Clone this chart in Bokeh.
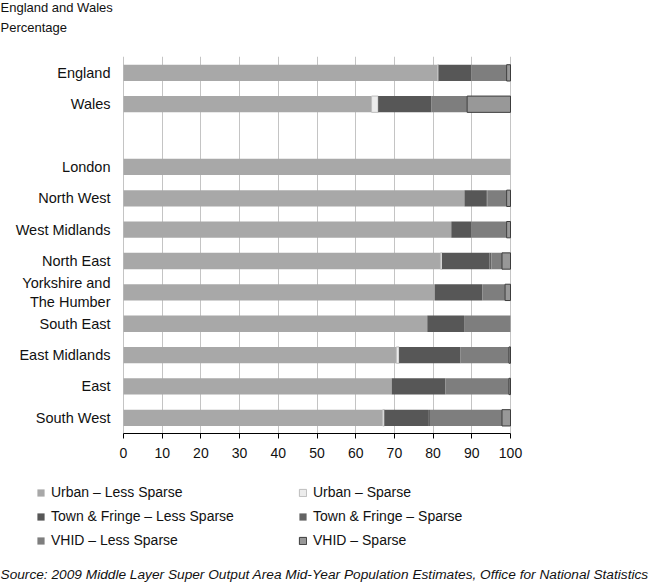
from bokeh.plotting import figure
from bokeh.layouts import column
from bokeh.models import ColumnDataSource, Range1d, FixedTicker, Label, Legend
from bokeh.core.properties import value
from bokeh.embed import file_html
from bokeh.resources import INLINE

# display order (top to bottom); None marks the empty gap row
row_order = ["England", "Wales", None, "London", "North West", "West Midlands", "North East",
             "Yorkshire and\nThe Humber", "South East", "East Midlands", "East", "South West"]
regions = [r for r in row_order if r is not None]
urban_less = [81.2, 64.1, 100.0, 88.1, 84.7, 81.9, 80.4, 78.5, 70.5, 69.3, 67.0]
urban_sparse = [0.2, 1.7, 0.0, 0.0, 0.0, 0.4, 0.0, 0.0, 0.7, 0.0, 0.4]
town_less = [8.5, 13.7, 0.0, 5.6, 5.1, 12.3, 12.3, 9.5, 15.9, 13.9, 11.3]
town_sparse = [0.0, 0.0, 0.0, 0.3, 0.0, 0.5, 0.0, 0.0, 0.0, 0.0, 0.5]
vhid_less = [9.1, 9.3, 0.0, 5.0, 9.2, 2.7, 5.9, 12.0, 12.5, 16.4, 18.6]
vhid_sparse = [1.0, 11.2, 0.0, 1.0, 1.0, 2.2, 1.4, 0.0, 0.4, 0.4, 2.2]
series_names = ["Urban \u2013 Less Sparse", "Urban \u2013 Sparse", "Town & Fringe \u2013 Less Sparse",
                "Town & Fringe \u2013 Sparse", "VHID \u2013 Less Sparse", "VHID \u2013 Sparse"]
x_ticks = [0, 10, 20, 30, 40, 50, 60, 70, 80, 90, 100]
title_lines = ["England and Wales", "Percentage"]
source_text = "Source: 2009 Middle Layer Super Output Area Mid-Year Population Estimates, Office for National Statistics"

n_rows = len(row_order)
ypos = [n_rows - 1 - row_order.index(r) for r in regions]

keys = ["ul", "us", "tl", "ts", "vl", "vs"]
data = dict(region=regions, y=ypos, ul=urban_less, us=urban_sparse, tl=town_less,
            ts=town_sparse, vl=vhid_less, vs=vhid_sparse)
data["vs_lc"] = ["#3c3c3c" if v > 0 else None for v in vhid_sparse]
data["us_lc"] = ["#bdbdbd" if v > 0 else None for v in urban_sparse]
src = ColumnDataSource(data)

colors = ["#a8a8a8", "#ececec", "#575757", "#636363", "#7e7e7e", "#989898"]
FONT = "Liberation Sans"
TXT = "#111111"

# pixel geometry of the reference
PX_PER_UNIT = 3.87      # x: 100 % spans 387 px, 0 % at 123 px
ROW_PX = 31.36          # row pitch
W = 654
FRAME_H = 433 - 56


def bars(fig):
    rs = fig.hbar_stack(keys, y="y", height=0.52, source=src, color=colors)
    for r, k in zip(rs, keys):
        if k == "vs":
            r.glyph.line_color = {"field": "vs_lc"}
        elif k == "us":
            r.glyph.line_color = {"field": "us_lc"}
        else:
            r.glyph.line_color = None
    return rs


def blank_fig(h, yr=(0, 1)):
    f = figure(width=W, height=h, x_range=Range1d(0, 1), y_range=Range1d(*yr),
               output_backend="svg", toolbar_location=None,
               x_axis_location=None, y_axis_location=None,
               min_border_left=0, min_border_right=0, min_border_top=0, min_border_bottom=0)
    f.outline_line_color = None
    f.xgrid.grid_line_color = None
    f.ygrid.grid_line_color = None
    return f


# ---- heading strip ----
t = blank_fig(40)
for txt, yy in zip(title_lines, [33, 13]):
    t.add_layout(Label(x=0, y=yy, x_units="screen", y_units="screen", text=txt,
                       text_font=FONT, text_font_size="13px", text_color=TXT,
                       text_baseline="middle"))

# ---- main chart ----
p = figure(width=W, height=424,
           x_range=Range1d(-123 / PX_PER_UNIT, (W - 123) / PX_PER_UNIT),
           y_range=Range1d(-0.5, -0.5 + FRAME_H / ROW_PX),
           output_backend="svg", toolbar_location=None, y_axis_location=None,
           min_border_left=0, min_border_right=0, min_border_top=16, min_border_bottom=31)
p.outline_line_color = None
bars(p)

# category labels
p.text(x=0, y="y", text="region", source=src, x_offset=-13, text_align="right",
       text_baseline="middle", text_font=value(FONT), text_font_size="14.5px",
       text_color=TXT, text_line_height=1.2)

p.xaxis.ticker = FixedTicker(ticks=x_ticks)
p.xaxis.bounds = (0, 100)
p.xaxis.axis_line_color = "#000000"
p.xaxis.major_tick_line_color = "#000000"
p.xaxis.major_tick_in = 0
p.xaxis.major_tick_out = 5
p.xaxis.minor_tick_line_color = None
p.xaxis.major_label_text_font = FONT
p.xaxis.major_label_text_font_size = "14px"
p.xaxis.major_label_text_color = TXT
p.xaxis.major_label_standoff = 9

p.xgrid.grid_line_color = "#c4c4c4"
p.xgrid.grid_line_width = 1
p.ygrid.grid_line_color = None
p.xgrid.level = "underlay"

# ---- legend + source strip (bars kept out of view, only legend shown) ----
q = blank_fig(120, yr=(100, 101))
q_rs = bars(q)

lg = Legend(items=[(name, [r]) for name, r in zip(series_names, q_rs)])
lg.orientation = "horizontal"
lg.ncols = 2
lg.location = (36, 34)
lg.padding = 0
lg.margin = 0
lg.spacing = 4
lg.border_line_color = None
lg.background_fill_alpha = 0
lg.glyph_width = 9
lg.glyph_height = 9
lg.label_height = 20
lg.label_width = 243
lg.label_standoff = 6
lg.label_text_font = FONT
lg.label_text_font_size = "14px"
lg.label_text_color = TXT
q.add_layout(lg)

q.add_layout(Label(x=0, y=10, x_units="screen", y_units="screen", text=source_text,
                   text_font=FONT, text_font_size="13.7px", text_font_style="italic",
                   text_color=TXT, text_baseline="middle"))

layout = column(t, p, q, spacing=0)
open("out.html", "w").write(file_html(layout, INLINE))
